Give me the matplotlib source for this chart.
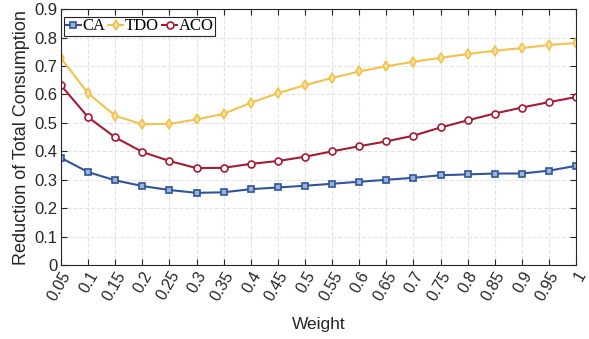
import matplotlib
matplotlib.use('Agg')
import matplotlib.pyplot as plt

weights = [0.05, 0.1, 0.15, 0.2, 0.25, 0.3, 0.35, 0.4, 0.45, 0.5,
           0.55, 0.6, 0.65, 0.7, 0.75, 0.8, 0.85, 0.9, 0.95, 1.0]
tick_labels = ['0.05', '0.1', '0.15', '0.2', '0.25', '0.3', '0.35', '0.4', '0.45', '0.5',
               '0.55', '0.6', '0.65', '0.7', '0.75', '0.8', '0.85', '0.9', '0.95', '1']

ca = [0.377, 0.327, 0.298, 0.278, 0.264, 0.254, 0.256, 0.267, 0.273, 0.279,
      0.286, 0.293, 0.300, 0.307, 0.316, 0.319, 0.322, 0.322, 0.332, 0.349]
tdo = [0.727, 0.604, 0.525, 0.495, 0.497, 0.512, 0.532, 0.571, 0.604, 0.633,
       0.658, 0.681, 0.699, 0.715, 0.729, 0.742, 0.754, 0.763, 0.774, 0.781]
aco = [0.632, 0.520, 0.449, 0.398, 0.366, 0.341, 0.342, 0.356, 0.366, 0.381,
       0.400, 0.418, 0.435, 0.455, 0.484, 0.509, 0.533, 0.554, 0.573, 0.591]

plt.rcParams['font.family'] = ['Liberation Sans', 'DejaVu Sans']

fig = plt.figure(figsize=(5.89, 3.39), dpi=100)
ax = fig.add_axes([0.1036, 0.218, 0.8744, 0.755])

ax.plot(weights, ca, color='#2f5597', marker='s', markersize=4.5, markerfacecolor='#9bb3d9',
        markeredgewidth=1.2, linewidth=1.5, label='CA')
ax.plot(weights, tdo, color='#f2c14e', marker='d', markersize=5.5, markerfacecolor='#f8e0a0',
        markeredgewidth=1.2, linewidth=1.5, label='TDO')
ax.plot(weights, aco, color='#a61b34', marker='o', markersize=5, markerfacecolor='white',
        markeredgewidth=1.2, linewidth=1.5, label='ACO')

ax.set_xlim(0.05, 1.0)
ax.set_ylim(0, 0.9)
ax.set_xticks(weights)
ax.set_xticklabels(tick_labels, rotation=60, ha='right', rotation_mode='anchor', fontsize=11.5)
ax.set_yticks([i / 10 for i in range(10)])
ax.set_yticklabels(['0', '0.1', '0.2', '0.3', '0.4', '0.5', '0.6', '0.7', '0.8', '0.9'], fontsize=12)
ax.tick_params(direction='in', top=True, right=True, length=4, width=0.8, colors='#262626', pad=2.5)
ax.grid(True, linestyle='--', color='#e3e3e3', linewidth=0.8)
ax.set_axisbelow(True)
for s in ax.spines.values():
    s.set_color('#262626')
    s.set_linewidth(0.8)

ax.set_xlabel('Weight', fontsize=12.5, color='#262626', labelpad=10)
ax.set_ylabel('Reduction of Total Consumption', fontsize=13, color='#262626', labelpad=3)

leg = ax.legend(loc='upper left', bbox_to_anchor=(0.006, 0.97), ncol=3,
                prop={'family': 'Liberation Serif', 'size': 12},
                handlelength=0.9, handletextpad=0.08, columnspacing=0.2, borderpad=0.1,
                borderaxespad=0.0, fancybox=False, framealpha=1)
leg.get_frame().set_edgecolor('#262626')
leg.get_frame().set_linewidth(0.8)

fig.savefig('out.png', dpi=100)
